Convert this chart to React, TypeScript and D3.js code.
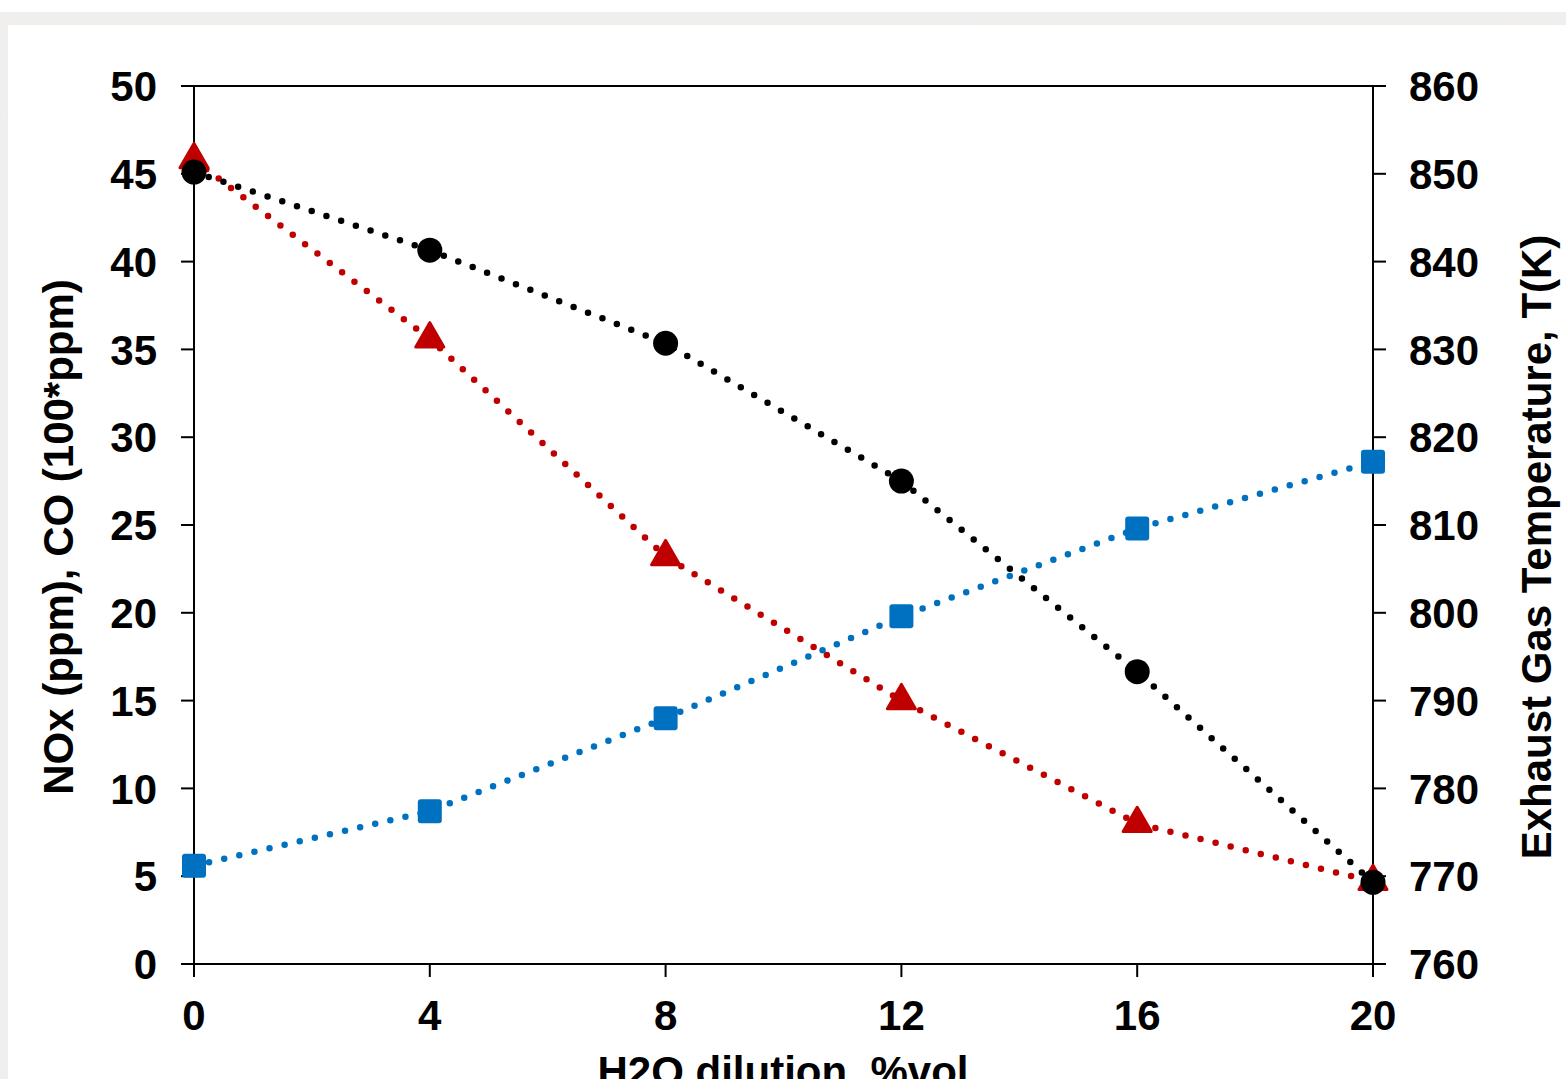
import React from "react";
import * as d3 from "d3";

const dilution = [0, 4, 8, 12, 16, 20];
const coValues = [45.8, 35.6, 23.2, 15.0, 8.0, 4.7];
const noxValues = [5.6, 8.7, 14.0, 19.8, 24.8, 28.6];
const tempValues = [850.2, 841.3, 830.7, 815.0, 793.3, 769.3];
const xTicks = [0, 4, 8, 12, 16, 20];
const leftTicks = [0, 5, 10, 15, 20, 25, 30, 35, 40, 45, 50];
const rightTicks = [760, 770, 780, 790, 800, 810, 820, 830, 840, 850, 860];

const W = 1566;
const H = 1079;
const L = 194, R = 1373, T = 86, B = 964;
const FONT = "Arial, 'Liberation Sans', Helvetica, sans-serif";

export default function App() {
  const x = d3.scaleLinear().domain([0, 20]).range([L, R]);
  const yL = d3.scaleLinear().domain([0, 50]).range([B, T]);
  const yR = d3.scaleLinear().domain([760, 860]).range([B, T]);

  const lineL = d3.line<number>().x((_, i) => x(dilution[i])).y((d) => yL(d));
  const lineR = d3.line<number>().x((_, i) => x(dilution[i])).y((d) => yR(d));

  const tri = d3.symbol().type(d3.symbolTriangle).size(340)() as string;

  const dotted = { fill: "none", strokeWidth: 6.5, strokeDasharray: "0 15.5", strokeLinecap: "round" as const };

  return (
    <svg width={W} height={H} style={{ position: "absolute", left: 0, top: 0 }} fontFamily={FONT}>
      <defs>
        <filter id="tex" x="0" y="0" width="100%" height="100%">
          <feTurbulence type="fractalNoise" baseFrequency="0.35" numOctaves="2" seed="3" />
          <feColorMatrix type="matrix" values="0 0 0 0 0.86  0 0 0 0 0.85  0 0 0 0 0.84  0 0 0 -1.2 1.1" />
        </filter>
      </defs>
      <rect x={0} y={0} width={W} height={H} fill="#fff" />
      <rect x={0} y={12} width={W} height={13} fill="#f1f0ee" />
      <rect x={0} y={12} width={W} height={13} fill="#fff" filter="url(#tex)" opacity={0.9} />
      <rect x={0} y={12} width={8} height={H - 12} fill="#f1f0ee" />
      <rect x={0} y={12} width={8} height={H - 12} fill="#fff" filter="url(#tex)" opacity={0.9} />

      {/* frame */}
      <rect x={L} y={T} width={R - L} height={B - T} fill="none" stroke="#000" strokeWidth={2} />

      {/* left ticks */}
      {leftTicks.map((t) => (
        <g key={"l" + t}>
          <line x1={L - 13} x2={L} y1={yL(t)} y2={yL(t)} stroke="#000" strokeWidth={2} />
          <text x={157} y={yL(t)} dy="0.36em" textAnchor="end" fontSize={42} fontWeight="bold">{t}</text>
        </g>
      ))}
      {/* right ticks */}
      {rightTicks.map((t) => (
        <g key={"r" + t}>
          <line x1={R} x2={R + 13} y1={yR(t)} y2={yR(t)} stroke="#000" strokeWidth={2} />
          <text x={1409} y={yR(t)} dy="0.36em" textAnchor="start" fontSize={42} fontWeight="bold">{t}</text>
        </g>
      ))}
      {/* x ticks */}
      {xTicks.map((t) => (
        <g key={"x" + t}>
          <line x1={x(t)} x2={x(t)} y1={B} y2={B + 13} stroke="#000" strokeWidth={2} />
          <text x={x(t)} y={1030} textAnchor="middle" fontSize={42} fontWeight="bold">{t}</text>
        </g>
      ))}

      <text x={783} y={1086} textAnchor="middle" fontSize={42} fontWeight="bold">H2O dilution, %vol</text>
      <text transform="translate(73,537) rotate(-90)" textAnchor="middle" fontSize={42} fontWeight="bold">NOx (ppm), CO (100*ppm)</text>
      <text transform="translate(1551,547) rotate(-90)" textAnchor="middle" fontSize={42} fontWeight="bold">Exhaust Gas Temperature, T(K)</text>

      {/* series */}
      <path d={lineL(coValues) as string} stroke="#C00000" {...dotted} />
      <path d={lineL(noxValues) as string} stroke="#0070C0" {...dotted} />
      <path d={lineR(tempValues) as string} stroke="#000" {...dotted} />

      {coValues.map((v, i) => (
        <path key={"c" + i} d={tri} transform={`translate(${x(dilution[i])},${yL(v)})`} fill="#C00000" stroke="#C00000" strokeWidth={3} strokeLinejoin="round" />
      ))}
      {noxValues.map((v, i) => (
        <rect key={"n" + i} x={x(dilution[i]) - 12} y={yL(v) - 12} width={24} height={24} rx={3} fill="#0070C0" />
      ))}
      {tempValues.map((v, i) => (
        <circle key={"t" + i} cx={x(dilution[i])} cy={yR(v)} r={12.5} fill="#000" />
      ))}
    </svg>
  );
}
